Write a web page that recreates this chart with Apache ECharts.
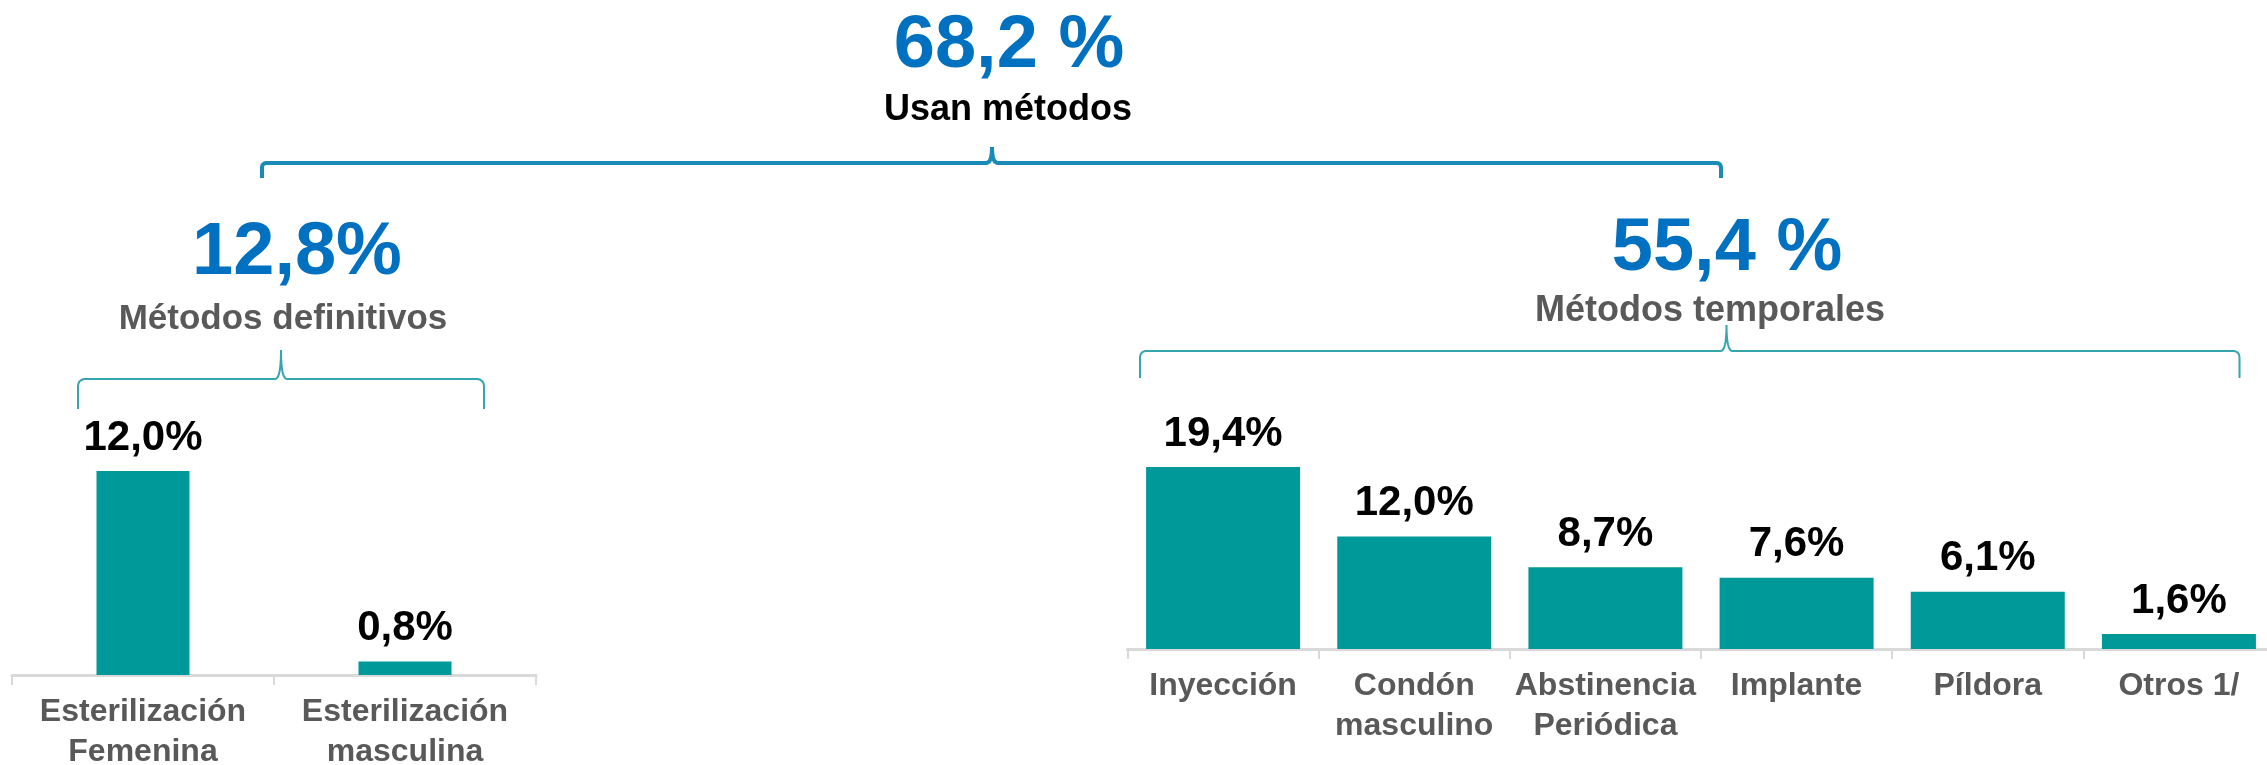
<!DOCTYPE html>
<html>
<head>
<meta charset="utf-8">
<script src="https://cdn.jsdelivr.net/npm/echarts@6.0.0/dist/echarts.min.js"></script>
<style>
  html, body { margin: 0; padding: 0; background: #fff; }
  #main { width: 2267px; height: 765px; }
</style>
</head>
<body>
<div id="main"></div>
<script>
// datos: métodos definitivos
const defCategories = ['Esterilización\nFemenina', 'Esterilización\nmasculina'];
const defValues = [12.0, 0.8];
// datos: métodos temporales
const tempCategories = ['Inyección', 'Condón\nmasculino', 'Abstinencia\nPeriódica', 'Implante', 'Píldora', 'Otros 1/'];
const tempValues = [19.4, 12.0, 8.7, 7.6, 6.1, 1.6];
// totales
const totalUsan = '68,2 %';
const totalDef = '12,8%';
const totalTemp = '55,4 %';

const FONT = "'Liberation Sans', Arial, sans-serif";
const BAR = '#009999';
const BLUE = '#0070C0';
const GREY = '#595959';

const fmt = v => v.toFixed(1).replace('.', ',') + '%';

let myChart = echarts.init(document.getElementById('main'));

function xAxisCfg(data, idx) {
  return {
    type: 'category',
    gridIndex: idx,
    data: data,
    axisLine: { lineStyle: { color: '#d9d9d9', width: 3 } },
    axisTick: { show: true, length: 10, lineStyle: { color: '#d9d9d9', width: 2 } },
    axisLabel: {
      interval: 0,
      margin: 17,
      fontFamily: FONT,
      fontSize: 32,
      fontWeight: 'bold',
      lineHeight: 40,
      color: GREY
    }
  };
}

function seriesCfg(data, idx, width) {
  return {
    type: 'bar',
    xAxisIndex: idx,
    yAxisIndex: idx,
    data: data,
    barWidth: width,
    itemStyle: { color: BAR },
    label: {
      show: true,
      position: 'top',
      distance: 12,
      fontFamily: FONT,
      fontSize: 42,
      fontWeight: 'bold',
      color: '#000',
      formatter: p => fmt(p.value)
    }
  };
}

function txt(x, y, text, size, color) {
  return {
    type: 'text',
    x: x, y: y,
    style: {
      text: text,
      fontFamily: FONT,
      fontSize: size,
      fontWeight: 'bold',
      fill: color,
      align: 'center',
      verticalAlign: 'middle'
    }
  };
}

// llave: extremos bajan, pico al centro
function brace(x1, xm, x2, y, yEnd, yPeak, r, color, width) {
  const pts = [];
  const quad = (p0, p1, p2) => {
    for (let t = 0; t <= 1.0001; t += 0.1) {
      const a = (1 - t) * (1 - t), b = 2 * (1 - t) * t, c = t * t;
      pts.push([a * p0[0] + b * p1[0] + c * p2[0], a * p0[1] + b * p1[1] + c * p2[1]]);
    }
  };
  pts.push([x1, yEnd]);
  quad([x1, y + r], [x1, y], [x1 + r, y]);
  quad([xm - 6, y], [xm, y], [xm, yPeak]);
  quad([xm, yPeak], [xm, y], [xm + 6, y]);
  quad([x2 - r, y], [x2, y], [x2, y + r]);
  pts.push([x2, yEnd]);
  return {
    type: 'polyline',
    shape: { points: pts },
    style: { fill: null, stroke: color, lineWidth: width }
  };
}

myChart.setOption({
  animation: false,
  backgroundColor: '#fff',
  grid: [
    { left: 12, width: 524, top: 335, height: 340, outerBoundsMode: 'none', containLabel: false },
    { left: 1127.5, width: 1147, top: 367.5, height: 281.5, outerBoundsMode: 'none', containLabel: false }
  ],
  xAxis: [xAxisCfg(defCategories, 0), xAxisCfg(tempCategories, 1)],
  yAxis: [
    { type: 'value', gridIndex: 0, min: 0, max: 20, show: false },
    { type: 'value', gridIndex: 1, min: 0, max: 30, show: false }
  ],
  series: [seriesCfg(defValues, 0, 93), seriesCfg(tempValues, 1, 154)],
  graphic: [
    txt(1009, 47, totalUsan, 74, BLUE),
    txt(1008, 110, 'Usan métodos', 36, '#000'),
    txt(297, 254, totalDef, 74, BLUE),
    txt(283, 319, 'Métodos definitivos', 35, GREY),
    txt(1727, 250, totalTemp, 74, BLUE),
    txt(1710, 311, 'Métodos temporales', 36, GREY),
    brace(262, 992, 1721, 163, 178, 147, 5, '#1a8ab8', 4),
    brace(78, 281, 484, 379, 409, 350, 8, '#35a5ae', 2),
    brace(1140, 1726.5, 2239.5, 351, 378, 325, 7, '#35a5ae', 2)
  ]
});
</script>
</body>
</html>
